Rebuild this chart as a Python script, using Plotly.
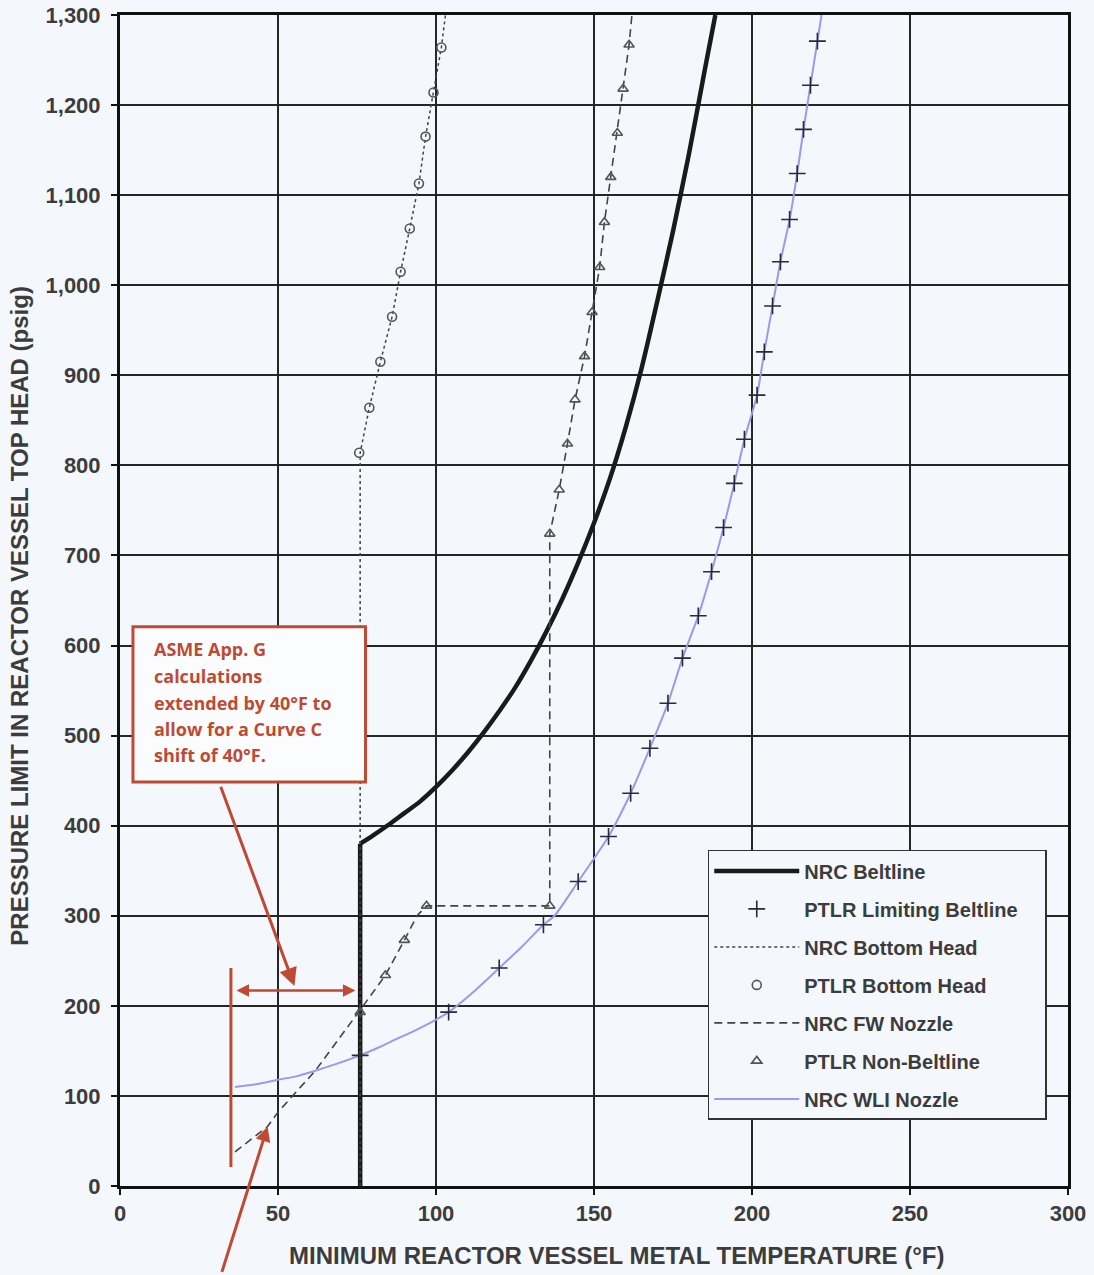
import plotly.graph_objects as go

# ---------------- data ----------------
# NRC Beltline (thick black)
belt_x = [76, 76, 80, 85, 90, 95, 100, 105, 110, 115, 120, 125, 130, 135, 140, 145, 150,
          155, 160, 165, 170, 175, 180, 185, 188.4]
belt_y = [0, 380, 389, 401, 414, 427, 443, 461, 481, 503, 527, 553, 583, 616, 652, 692, 736,
          785, 842, 907, 982, 1060, 1145, 1238, 1300]

# PTLR Limiting Beltline (+ markers)
ptlr_lb_x = [76, 104, 120, 134, 145, 154.6, 161.6, 167.7, 173.4, 178, 183, 187.2, 191, 194.4,
             197.6, 201.6, 203.9, 206.5, 209, 211.9, 214.3, 216.3, 218.5, 220.7]
ptlr_lb_y = [145, 193, 242, 290, 338, 388, 436, 486, 536, 586, 633, 682, 731, 780,
             829, 878, 926, 977, 1026, 1073, 1124, 1173, 1222, 1271]

# NRC Bottom Head (dotted)
bh_x = [76, 76, 78.9, 82.4, 86.1, 88.8, 91.7, 94.6, 96.7, 99.2, 101.7, 103]
bh_y = [0, 814, 864, 915, 965, 1015, 1063, 1113, 1165, 1214, 1264, 1300]

# PTLR Bottom Head (circles)
ptlr_bh_x = [75.7, 78.9, 82.4, 86.1, 88.8, 91.7, 94.6, 96.7, 99.2, 101.7]
ptlr_bh_y = [814, 864, 915, 965, 1015, 1063, 1113, 1165, 1214, 1264]

# NRC FW Nozzle (dashed)
fw_x = [36.4, 46.7, 50, 61.8, 75.5, 84, 90, 94, 97, 136, 136, 139, 141.6, 144, 147, 149.4,
        151.8, 153.3, 155.3, 157.4, 159.2, 161.1, 162]
fw_y = [38, 66, 82, 128, 193, 234, 273, 300, 311, 311, 724, 773, 824, 873, 921, 970,
        1020, 1070, 1120, 1169, 1218, 1267, 1300]

# PTLR Non-Beltline (triangles)
ptlr_nb_x = [76, 84, 90, 97, 136, 136, 139, 141.6, 144, 147, 149.4, 151.8, 153.3, 155.3,
             157.4, 159.2, 161.1]
ptlr_nb_y = [193, 234, 273, 311, 311, 724, 773, 824, 873, 921, 970, 1020, 1070, 1120,
             1169, 1218, 1267]

# NRC WLI Nozzle (lavender line)
wli_x = [36.4, 43, 50, 56, 61.8, 68, 76, 82, 87.4, 93, 98.6, 104, 112, 120, 127, 134, 137.5,
         145, 154.6, 161.6, 167.7, 173.4, 178, 183, 187.2, 191, 194.4, 197.6, 201.6, 203.9,
         206.5, 209, 211.9, 214.3, 216.3, 218.5, 220.7, 222]
wli_y = [110, 113, 118, 122, 128, 135, 145, 154, 163, 172, 182, 193, 216, 242, 265, 290, 300,
         338, 388, 436, 486, 536, 586, 633, 682, 731, 780, 829, 878, 926, 977, 1026, 1073,
         1124, 1173, 1222, 1271, 1300]

x_ticks = [0, 50, 100, 150, 200, 250, 300]
y_ticks = [0, 100, 200, 300, 400, 500, 600, 700, 800, 900, 1000, 1100, 1200, 1300]

x_title = "MINIMUM REACTOR VESSEL METAL TEMPERATURE (°F)"
y_title = "PRESSURE LIMIT IN REACTOR VESSEL TOP HEAD (psig)"

note_lines = ["ASME App. G", "calculations", "extended by 40°F to",
              "allow for a Curve C", "shift of 40°F."]

# ---------------- styles ----------------
BG = "#f4f7fb"
RED = "#bf4a33"
TXT = "#3c3c3c"
FONT = "Liberation Sans, Arial, sans-serif"
NB = "\u00a0"
BELT = dict(color="#1a1a1a", width=4.5)

fig = go.Figure()

# drawn first so the + markers sit on top of it; legendrank keeps legend order
fig.add_trace(go.Scatter(x=wli_x, y=wli_y, mode="lines", name="NRC WLI Nozzle",
                         legendrank=7, legendgroup="g7",
                         line=dict(color="#9a9ae6", width=2, shape="spline", smoothing=0.6)))
# beltline: vertical segment (sharp corner) + smooth curve
fig.add_trace(go.Scatter(x=belt_x[:2], y=belt_y[:2], mode="lines", name="NRC Beltline",
                         legendgroup="g1", showlegend=False, line=BELT))
fig.add_trace(go.Scatter(x=belt_x[1:], y=belt_y[1:], mode="lines", name="NRC Beltline",
                         legendrank=1, legendgroup="g1",
                         line=dict(BELT, shape="spline", smoothing=0.8)))
fig.add_trace(go.Scatter(x=ptlr_lb_x, y=ptlr_lb_y, mode="markers",
                         name="PTLR Limiting Beltline" + NB * 4,
                         legendrank=2, legendgroup="g2",
                         marker=dict(symbol="cross-thin", size=12, color="#2a2a3a",
                                     line=dict(color="#2a2a3a", width=1.6))))
fig.add_trace(go.Scatter(x=bh_x, y=bh_y, mode="lines", name="NRC Bottom Head",
                         legendrank=3, legendgroup="g3",
                         line=dict(color="#444444", width=1.5, dash="dot")))
fig.add_trace(go.Scatter(x=ptlr_bh_x, y=ptlr_bh_y, mode="markers", name="PTLR Bottom Head",
                         legendrank=4, legendgroup="g4",
                         marker=dict(symbol="circle-open", size=9, color="#555555",
                                     line=dict(color="#555555", width=1.6))))
fig.add_trace(go.Scatter(x=fw_x, y=fw_y, mode="lines", name="NRC FW Nozzle",
                         legendrank=5, legendgroup="g5",
                         line=dict(color="#444444", width=1.6, dash="8px,5px")))
fig.add_trace(go.Scatter(x=ptlr_nb_x, y=ptlr_nb_y, mode="markers", name="PTLR Non-Beltline",
                         legendrank=6, legendgroup="g6",
                         marker=dict(symbol="triangle-up-open", size=9, color="#555555",
                                     line=dict(color="#555555", width=1.6))))

axis_common = dict(showline=True, mirror=True, linecolor="#111111", linewidth=3,
                   showgrid=True, gridcolor="#262626", gridwidth=1.5, zeroline=False,
                   ticks="outside", ticklen=6, tickwidth=2, tickcolor="#111111",
                   automargin=False,
                   tickfont=dict(family=FONT, size=22, color=TXT, weight="bold"))

fig.update_xaxes(range=[0, 300], tickvals=x_ticks, **axis_common)
fig.update_yaxes(range=[0, 1300], tickvals=y_ticks, tickformat=",", ticklabelstandoff=6,
                 **axis_common)

fig.update_layout(
    width=1094, height=1275,
    margin=dict(l=120, r=26, t=15, b=89),
    paper_bgcolor=BG, plot_bgcolor=BG,
    legend=dict(x=0.62, y=0.287, xanchor="left", yanchor="top",
                bgcolor=BG, bordercolor="#333333", borderwidth=1.5,
                font=dict(family=FONT, size=20, color=TXT, weight="bold"),
                itemwidth=85, tracegroupgap=9, traceorder="grouped"),
    showlegend=True,
)

# axis titles (placed as annotations to match the reference's offsets)
fig.add_annotation(x=0.524, y=-0.059, xref="paper", yref="paper", text=x_title,
                   showarrow=False, xanchor="center", yanchor="middle",
                   font=dict(family=FONT, size=24, color=TXT, weight="bold"))
fig.add_annotation(x=-0.1055, y=0.487, xref="paper", yref="paper", text=y_title,
                   showarrow=False, xanchor="center", yanchor="middle", textangle=-90,
                   font=dict(family=FONT, size=24, color=TXT, weight="bold"))

# annotation box
fig.add_shape(type="rect", xref="x", yref="y", x0=4.1, x1=77.7, y0=448.6, y1=620.8,
              line=dict(color=RED, width=3), fillcolor="#fbfcfd", layer="above")
line_y = [596, 566, 536, 507, 478]
for t, yy in zip(note_lines, line_y):
    fig.add_annotation(x=10.2, y=yy, xref="x", yref="y", text=t, showarrow=False,
                       xanchor="left", yanchor="middle",
                       font=dict(family="Open Sans, Lato, sans-serif", size=18, color=RED,
                                 weight="bold"))

# diagonal arrow from box down to the double arrow
fig.add_annotation(x=55.2, y=222, ax=31.7, ay=445, xref="x", yref="y", axref="x", ayref="y",
                   text="", showarrow=True, arrowhead=2, arrowsize=1.2, arrowwidth=3,
                   arrowcolor=RED)
# horizontal double arrow (40 °F extension)
fig.add_annotation(x=74.5, y=217, ax=36.4, ay=217, xref="x", yref="y", axref="x", ayref="y",
                   text="", showarrow=True, arrowhead=2, startarrowhead=2,
                   arrowside="end+start", arrowsize=1, arrowwidth=2.5, arrowcolor=RED)
# vertical red bar at 35 °F
fig.add_shape(type="line", xref="x", yref="y", x0=35.1, x1=35.1, y0=21, y1=242,
              line=dict(color=RED, width=3))
# arrow from below the chart
fig.add_annotation(x=46.7, y=66, ax=32.1, ay=-97, xref="x", yref="y", axref="x", ayref="y",
                   text="", showarrow=True, arrowhead=2, arrowsize=1, arrowwidth=3,
                   arrowcolor=RED)

fig.write_html("out.html", config={"displayModeBar": False},
               post_script="document.body.style.margin='0px';")
